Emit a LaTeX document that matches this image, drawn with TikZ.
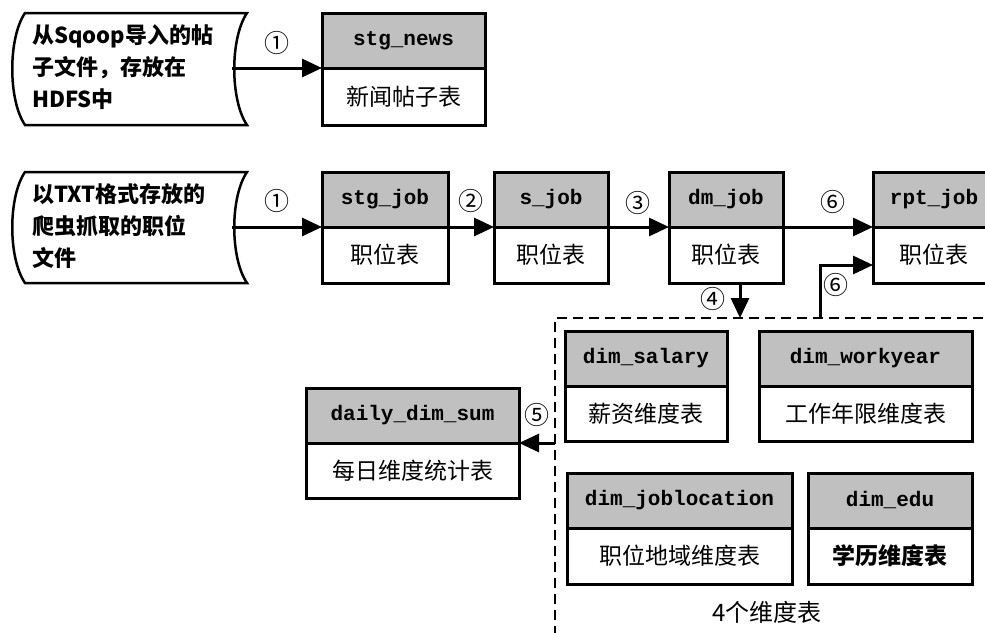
\documentclass[tikz,border=0pt]{standalone}
\usepackage{fontspec}
\setmainfont{Noto Sans CJK SC}
\newfontfamily\codefont{Liberation Mono}
\usetikzlibrary{arrows.meta,calc}
\definecolor{hdrgray}{RGB}{192,192,192}
\tikzset{
  hdr/.style={draw, line width=3pt, fill=hdrgray, anchor=north west, inner sep=0pt, outer sep=0pt,
    font=\fontsize{21}{21}\codefont\bfseries},
  bdy/.style={draw, line width=3pt, fill=white, anchor=north, inner sep=0pt, outer sep=0pt,
    font=\fontsize{23}{23}\selectfont},
  arr/.style={line width=3pt, -{Triangle[length=20pt,width=18pt]}},
  num/.style={font=\fontsize{25}{25}\selectfont, inner sep=0pt},
  docline/.style={line width=2.5pt},
  doctext/.style={align=left, anchor=west, inner sep=0pt,
    font=\fontsize{22}{32}\selectfont\bfseries},
  dashbox/.style={draw, line width=2.5pt, dash pattern=on 10pt off 6pt,
    anchor=north west, minimum width=460pt, minimum height=340pt, inner sep=0pt, outer sep=0pt},
  note/.style={font=\fontsize{24}{24}\selectfont, inner sep=0pt},
}
% name, x1, y1, x2, ymid, y2, header, body
\newcommand\dbtable[8]{%
  \node[hdr, minimum width={(#4-#2)*1pt}, minimum height={(#5-#3)*1pt}] (h#1) at (#2,#3) {#7};
  \node[bdy, minimum width={(#4-#2)*1pt}, minimum height={(#6-#5)*1pt}] (b#1) at (h#1.south) {#8};
}
% x1, y1, x2, y2
\newcommand\docoutline[4]{%
  \draw[docline] (#1,#2) -- (#3,#2)
    .. controls (#3-17,#2+25) and (#3-17,#4-25) .. (#3,#4) -- (#1,#4)
    .. controls (#1-17,#4-25) and (#1-17,#2+25) .. (#1,#2) -- cycle;
}
\begin{document}
\begin{tikzpicture}[x=1pt,y=-1pt]
\useasboundingbox (0,0) rectangle (985,632);
\clip (0,0) rectangle (985,632);
\fill[white] (0,0) rectangle (985,632);

% dashed group box
\node[dashbox] (dimbox) at (555,318) {};

% source documents
\docoutline{25}{13}{247}{125}
\node[doctext] (doc1) at (32,67) {从Sqoop导入的帖\\子文件，存放在\\HDFS中};
\coordinate (d1r) at (232,68);
\docoutline{25}{172}{247}{283}
\node[doctext] (doc2) at (32,226) {以TXT格式存放的\\爬虫抓取的职位\\文件};
\coordinate (d2r) at (232,227);

% tables
\dbtable{news}{322}{13}{485}{68}{125}{stg\_news}{新闻帖子表}
\dbtable{stgjob}{322}{172}{448}{227}{283}{stg\_job}{职位表}
\dbtable{sjob}{494}{172}{608}{227}{283}{s\_job}{职位表}
\dbtable{dm}{669}{172}{783}{227}{283}{dm\_job}{职位表}
\dbtable{rpt}{873}{172}{995}{227}{283}{rpt\_job}{职位表}
\dbtable{salary}{565}{331}{727}{386}{441}{dim\_salary}{薪资维度表}
\dbtable{workyear}{759}{331}{972}{386}{441}{dim\_workyear}{工作年限维度表}
\dbtable{jobloc}{567}{473}{792}{528}{584}{dim\_joblocation}{职位地域维度表}
\dbtable{edu}{808}{473}{972}{528}{584}{dim\_edu}{\bfseries 学历维度表}
\dbtable{daily}{306}{388}{519}{443}{498}{daily\_dim\_sum}{每日维度统计表}

\node[note] (n4tables) at (767,612) {4个维度表};

% connectors
\draw[arr] (d1r) -- (hnews.south west);
\draw[arr] (d2r) -- (hstgjob.south west);
\draw[arr] (hstgjob.south east) -- (hsjob.south west);
\draw[arr] (hsjob.south east) -- (hdm.south west);
\draw[arr] (hdm.south east) -- (hrpt.south west);
\coordinate (c4) at (740,318);
\draw[arr] (c4 |- bdm.south) -- (c4);
\coordinate (c6) at (820,318);
\draw[arr] (c6) |- ([yshift=-10pt]brpt.west);
\coordinate (c5) at (555,443);
\draw[arr] (c5) -- (hdaily.south east);

% step numbers
\node[num] (s1a) at (277,43) {①};
\node[num] (s1b) at (277,201) {①};
\node[num] (s2) at (471,201) {②};
\node[num] (s3) at (638,203) {③};
\node[num] (s6a) at (833,202) {⑥};
\node[num] (s4) at (713,299) {④};
\node[num] (s6b) at (836,285) {⑥};
\node[num] (s5) at (537,415) {⑤};
\end{tikzpicture}
\end{document}
